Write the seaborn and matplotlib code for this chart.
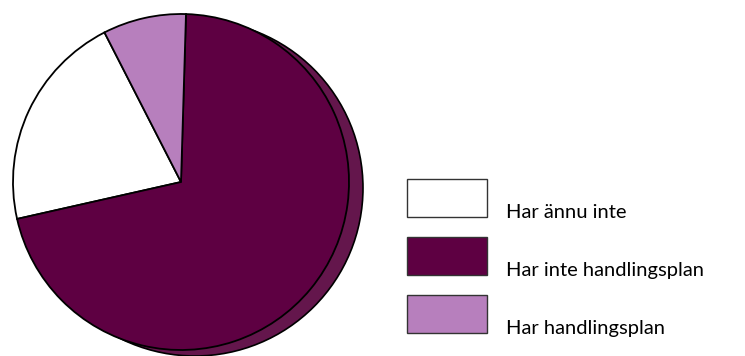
import matplotlib
matplotlib.use("Agg")
import matplotlib.pyplot as plt
from matplotlib.patches import Circle, Rectangle
import seaborn as sns

categories = ["Har ännu inte", "Har inte handlingsplan", "Har handlingsplan"]
values = [21, 71, 8]
colors = ["#ffffff", "#5e0042", "#b77fbd"]
shadow_color = "#64164c"

sns.set_theme(style="white")
plt.rcParams["font.family"] = ["Lato", "DejaVu Sans"]

W, H = 745, 356
fig = plt.figure(figsize=(W / 100, H / 100), dpi=100)
ax = fig.add_axes([0, 0, 1, 1])

cx, cy, r = 181, H - 182, 168
# 3D-like shadow
ax.add_patch(Circle((cx + 14, cy - 6), r, facecolor=shadow_color,
                    edgecolor="black", linewidth=1.2, zorder=1))

wedges, _ = ax.pie(values, colors=colors, startangle=117.1, counterclock=True,
                   center=(cx, cy), radius=r, frame=True,
                   wedgeprops=dict(edgecolor="black", linewidth=1.3))
for w in wedges:
    w.set_zorder(2)
ax.set_xlim(0, W)
ax.set_ylim(0, H)
ax.set_aspect("equal")
ax.axis("off")

# legend
box_x, box_w, box_h = 407, 80, 38
box_tops = [179, 237, 295]
text_base = [218, 276, 334]
for cat, col, top, base in zip(categories, colors, box_tops, text_base):
    ax.add_patch(Rectangle((box_x, H - top - box_h), box_w, box_h,
                           facecolor=col, edgecolor="#333333", linewidth=1.0, zorder=3))
    ax.text(506, H - base, cat, fontsize=14.5, ha="left", va="baseline",
            color="black", zorder=3)

fig.savefig("out.png", dpi=100)
